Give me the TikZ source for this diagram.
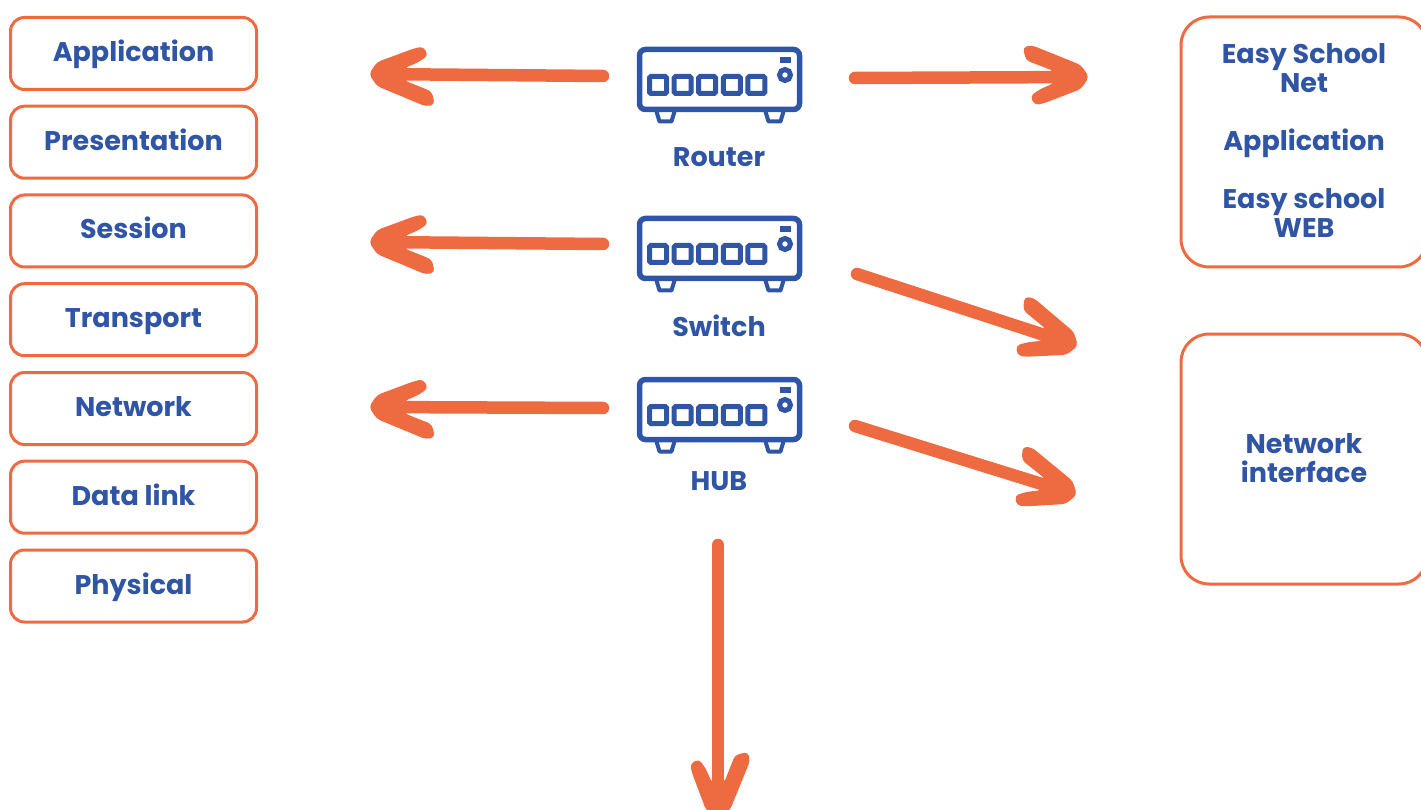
\documentclass[tikz,border=0pt]{standalone}
\usepackage{fontspec}
\setmainfont{Poppins}
\definecolor{netblue}{HTML}{2F55A4}
\definecolor{netorange}{HTML}{EE6A40}
\tikzset{
  label text/.style={text=netblue, font=\fontsize{27}{29}\selectfont\bfseries},
  layer/.style={draw=netorange, line width=3pt, rounded corners=14pt, minimum width=246pt, minimum height=72pt, inner sep=0pt, text height=21pt, text depth=5pt, label text},
  bigbox/.style={draw=netorange, line width=3pt, rounded corners=28pt, minimum width=246pt, minimum height=250pt, inner sep=0pt},
  boxtext/.style={align=center, label text},
  flow/.style={draw=netorange, line width=12.5pt, line cap=round, shorten >=12pt},
  pics/flowhead/.style={code={
    \fill[netorange, rounded corners=4pt] (3,0) -- (-5,-12) -- (-54,-32) -- (-63,-30) -- (-60,-17) -- (-32,-6) -- (-32,6) -- (-46,12) -- (-56,19) -- (-51,28) -- (-42,26) -- (-5,12) -- cycle;
  }},
  pics/device/.style={code={
    \node(-body)[draw=netblue, line width=5.5pt, rounded corners=6pt, minimum width=160pt, minimum height=60pt, inner sep=0pt] at (0,0) {};
    \foreach \px in {-61.5,-36.9,-12.3,12.3,36.9} {
      \draw[netblue, line width=5pt, rounded corners=1.5pt] (\px-8.5,-3) rectangle (\px+8.5,14);
    }
    \fill[netblue] (60,-22.5) rectangle (71,-16.5);
    \draw[netblue, line width=5pt] (65.5,-4.5) circle (5.5);
    \draw[netblue, line width=4pt, line join=round] (-63,32) -- (-60,42) -- (-48,42) -- (-45,32);
    \draw[netblue, line width=4pt, line join=round] (46,32) -- (49,42) -- (61,42) -- (64,32);
  }}
}
\begin{document}
\begin{tikzpicture}[x=1pt, y=-1pt]
\clip (0,0) rectangle (1421,810);

% layers
\node(App)[layer] at (133.5,53.5) {Application};
\node(Pres)[layer] at (133.5,142.2) {Presentation};
\node(Sess)[layer] at (133.5,231) {Session};
\node(Trans)[layer] at (133.5,319.7) {Transport};
\node(Net)[layer] at (133.5,408.5) {Network};
\node(Link)[layer] at (133.5,497.2) {Data link};
\node(Phys)[layer] at (133.5,586) {Physical};

% devices
\pic(Router) at (719.5,79.5) {device};
\pic(Switch) at (719.5,248.5) {device};
\pic(Hub) at (719.5,409.5) {device};
\node(RouterT)[label text, text height=21pt, text depth=7pt] at (719,159.5) {Router};
\node(SwitchT)[label text, text height=21pt, text depth=7pt] at (719,329.5) {Switch};
\node(HubT)[label text, text height=21pt, text depth=7pt] at (719,483.5) {HUB};

% right side
\node(Apps)[bigbox] at (1304,142) {};
\node(AppsT)[boxtext] at (1304,141) {Easy School\\Net\\[29pt]Application\\[29pt]Easy school\\WEB};
\node(Iface)[bigbox] at (1304,459) {};
\node(IfaceT)[boxtext] at (1304,458) {Network\\interface};

% free ends
\coordinate(RouterL) at (603,76);
\coordinate(RouterLEnd) at (372,74);
\coordinate(SwitchL) at (603,244);
\coordinate(SwitchLEnd) at (372,242);
\coordinate(HubL) at (603,408);
\coordinate(HubLEnd) at (372,407);
\coordinate(RouterR) at (855,78);
\coordinate(RouterREnd) at (1086,77);
\coordinate(SwitchR) at (857,274);
\coordinate(SwitchREnd) at (1075,345);
\coordinate(HubR) at (855,426);
\coordinate(HubREnd) at (1074,494);
\coordinate(HubD) at (718,545);
\coordinate(HubDEnd) at (718,815);

\draw[flow] (RouterL) -- (RouterLEnd) pic[pos=1, sloped, allow upside down] {flowhead};
\draw[flow] (SwitchL) -- (SwitchLEnd) pic[pos=1, sloped, allow upside down] {flowhead};
\draw[flow] (HubL) -- (HubLEnd) pic[pos=1, sloped, allow upside down] {flowhead};
\draw[flow] (RouterR) -- (RouterREnd) pic[pos=1, sloped, allow upside down] {flowhead};
\draw[flow] (SwitchR) -- (SwitchREnd) pic[pos=1, sloped, allow upside down] {flowhead};
\draw[flow] (HubR) -- (HubREnd) pic[pos=1, sloped, allow upside down] {flowhead};
\draw[flow] (HubD) -- (HubDEnd) pic[pos=1, sloped, allow upside down] {flowhead};
\end{tikzpicture}
\end{document}
